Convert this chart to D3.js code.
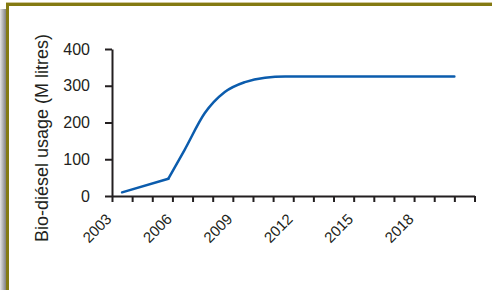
<!DOCTYPE html>
<html>
    <head>
        <meta charset="utf-8">
        <script src="https://d3js.org/d3.v7.min.js"></script>
        <title>Bio-diesel usage</title>
        <style>
            body { margin: 0; background-color: #fff }
            svg { display: block }
            .axis text { font-family: "Liberation Sans", Arial, sans-serif; font-size: 16px; fill: #231f20 }
            .axis path, .axis line { stroke: #231f20; stroke-width: 2 }
        </style>
    </head>
    <body>
        <script>
            /* data */
            const years = [2003.5, 2005.8, 2006.6, 2007.6, 2008.6, 2009.6, 2010.6, 2011.6, 2013, 2020]
            const usage = [10, 47, 125, 225, 283, 310, 322, 325, 325, 325]
            const tickYears = d3.range(2003, 2022)
            const labelYears = [2003, 2006, 2009, 2012, 2015, 2018]
            const yTicks = [0, 100, 200, 300, 400]

            const width = 492
            const height = 290

            const svg = d3.select('body')
                .append('svg')
                    .attr('width', width)
                    .attr('height', height)

            /* frame: shadow on the left, olive border top and left */
            const grad = svg.append('defs').append('linearGradient')
                .attr('id', 'shadow')
            grad.append('stop').attr('offset', '0%').attr('stop-color', '#e4e4e4')
            grad.append('stop').attr('offset', '100%').attr('stop-color', '#808080')

            svg.append('rect').attr('x', 0).attr('y', 9).attr('width', 6).attr('height', height - 9)
                .attr('fill', 'url(#shadow)')
            svg.append('rect').attr('x', 6).attr('y', 2).attr('width', width - 6).attr('height', 1)
                .attr('fill', '#cfc79a')
            svg.append('rect').attr('x', 6).attr('y', 3).attr('width', width - 6).attr('height', 3)
                .attr('fill', '#847a12')
            svg.append('rect').attr('x', 6).attr('y', 3).attr('width', 3).attr('height', height - 3)
                .attr('fill', '#847a12')

            /* scales */
            const xScale = d3.scaleLinear().domain([2003, 2021]).range([112, 474.5])
            const yScale = d3.scaleLinear().domain([0, 400]).range([196, 49])

            /* axes */
            svg.append('g')
                .attr('class', 'axis')
                .attr('transform', 'translate(0,196)')
                .call(d3.axisBottom(xScale)
                    .tickValues(tickYears)
                    .tickSize(6)
                    .tickSizeOuter(0)
                    .tickFormat(d => labelYears.includes(d) ? d : ''))
                .selectAll('text')
                    .style('font-size', '15px')
                    .attr('text-anchor', 'end')
                    .attr('transform', 'rotate(-45)')
                    .attr('dx', -17)
                    .attr('dy', 8)

            svg.append('g')
                .attr('class', 'axis')
                .attr('transform', 'translate(112,0)')
                .call(d3.axisLeft(yScale)
                    .tickValues(yTicks)
                    .tickSize(7)
                    .tickSizeOuter(0)
                    .tickPadding(15))

            svg.append('text')
                .attr('transform', 'translate(48,138) rotate(-90)')
                .attr('text-anchor', 'middle')
                .style('font-family', '"Liberation Sans", Arial, sans-serif')
                .style('font-size', '18px')
                .style('fill', '#231f20')
                .text('Bio-diésel usage (M litres)')

            /* line: straight first stretch, smooth after the 2006 kink */
            const line = d3.line()
                .x(d => xScale(d[0]))
                .y(d => yScale(d[1]))
            const pts = years.map((y, i) => [y, usage[i]])

            svg.append('path')
                .datum(pts.slice(0, 2))
                .attr('d', line)
                .attr('fill', 'none')
                .attr('stroke', '#0b5cad')
                .attr('stroke-width', 2.5)
                .attr('stroke-linecap', 'round')

            svg.append('path')
                .datum(pts.slice(1))
                .attr('d', line.curve(d3.curveMonotoneX))
                .attr('fill', 'none')
                .attr('stroke', '#0b5cad')
                .attr('stroke-width', 2.5)
                .attr('stroke-linecap', 'round')
        </script>
    </body>
</html>
